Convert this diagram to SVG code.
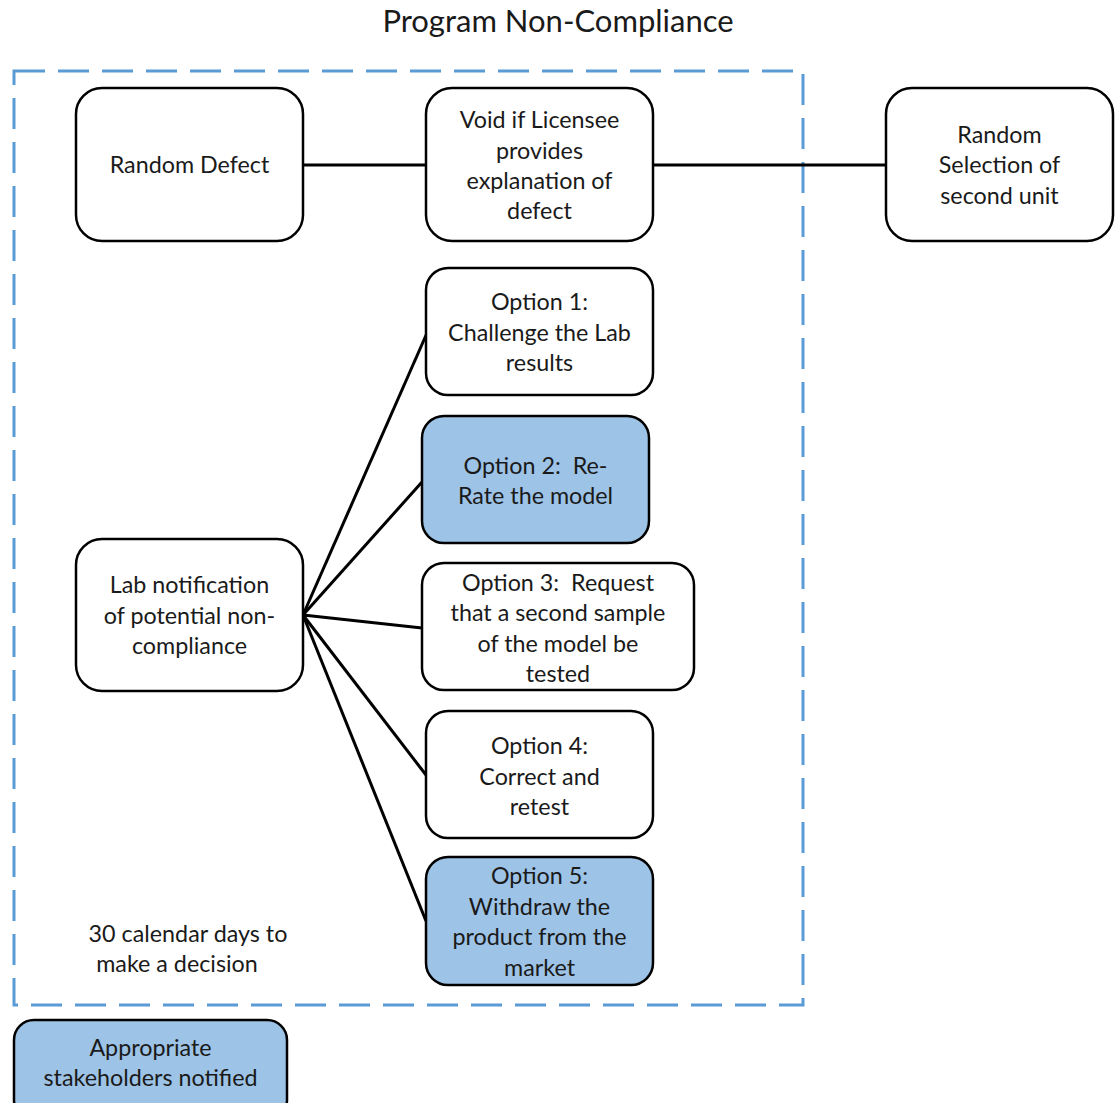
<svg xmlns="http://www.w3.org/2000/svg" width="1120" height="1103" viewBox="0 0 1120 1103">
<style>
.n{fill:#fff;stroke:#000;stroke-width:2.5}
.f{fill:#9DC3E6;stroke:#000;stroke-width:2.5}
.t{font-family:Lato,"Liberation Sans",sans-serif;font-size:23.3px;fill:#1a1a1a;text-anchor:middle;white-space:pre}
.c{stroke:#000;stroke-width:3;fill:none}
</style>
<rect width="1120" height="1103" fill="#fff"/>
<text x="558" y="32" class="t" style="font-size:31px">Program Non-Compliance</text>
<rect x="14" y="71" width="789" height="934" fill="none" stroke="#5B9BD5" stroke-width="3" stroke-dasharray="31 13"/>
<g id="connectors">
<line class="c" x1="303" y1="165" x2="426" y2="165"/>
<line class="c" x1="653" y1="165" x2="886" y2="165"/>
<line class="c" x1="303" y1="615" x2="427" y2="333"/>
<line class="c" x1="303" y1="615" x2="422" y2="482"/>
<line class="c" x1="303" y1="615" x2="422" y2="628"/>
<line class="c" x1="303" y1="615" x2="426" y2="775"/>
<line class="c" x1="303" y1="615" x2="426" y2="921"/>
</g>
<g id="random-defect"><rect class="n" x="76" y="88" width="227" height="153" rx="26"/><text class="t" x="189.5" y="173">Random Defect</text></g>
<g id="void"><rect class="n" x="426" y="88" width="227" height="153" rx="26"/><text class="t" x="539.5"><tspan x="539.5" y="128">Void if Licensee</tspan><tspan x="539.5" y="159">provides</tspan><tspan x="539.5" y="189">explanation of</tspan><tspan x="539.5" y="219">defect</tspan></text></g>
<g id="random-selection"><rect class="n" x="886" y="88" width="227" height="153" rx="26"/><text class="t"><tspan x="999.5" y="143">Random</tspan><tspan x="999.5" y="173">Selection of</tspan><tspan x="999.5" y="204">second unit</tspan></text></g>
<g id="option1"><rect class="n" x="426" y="268" width="227" height="127" rx="22"/><text class="t"><tspan x="539.5" y="310">Option 1:</tspan><tspan x="539.5" y="341">Challenge the Lab</tspan><tspan x="539.5" y="371">results</tspan></text></g>
<g id="option2"><rect class="f" x="422" y="416" width="227" height="127" rx="22"/><text class="t"><tspan x="535.5" y="474">Option 2:  Re-</tspan><tspan x="535.5" y="504">Rate the model</tspan></text></g>
<g id="option3"><rect class="n" x="422" y="563" width="272" height="127" rx="22"/><text class="t"><tspan x="558" y="591">Option 3:  Request</tspan><tspan x="558" y="621">that a second sample</tspan><tspan x="558" y="652">of the model be</tspan><tspan x="558" y="682">tested</tspan></text></g>
<g id="option4"><rect class="n" x="426" y="711" width="227" height="127" rx="22"/><text class="t"><tspan x="539.5" y="754">Option 4:</tspan><tspan x="539.5" y="785">Correct and</tspan><tspan x="539.5" y="815">retest</tspan></text></g>
<g id="option5"><rect class="f" x="426" y="857" width="227" height="128" rx="22"/><text class="t"><tspan x="539.5" y="884">Option 5:</tspan><tspan x="539.5" y="915">Withdraw the</tspan><tspan x="539.5" y="945">product from the</tspan><tspan x="539.5" y="976">market</tspan></text></g>
<g id="lab"><rect class="n" x="76" y="539" width="227" height="152" rx="26"/><text class="t"><tspan x="189.5" y="593">Lab notification</tspan><tspan x="189.5" y="624">of potential non-</tspan><tspan x="189.5" y="654">compliance</tspan></text></g>
<g id="days"><text class="t"><tspan x="188" y="942">30 calendar days to</tspan><tspan x="177" y="972">make a decision</tspan></text></g>
<g id="stakeholders"><rect class="f" x="14" y="1020" width="273" height="100" rx="20"/><text class="t"><tspan x="150.5" y="1056">Appropriate</tspan><tspan x="150.5" y="1086">stakeholders notified</tspan></text></g>
</svg>
